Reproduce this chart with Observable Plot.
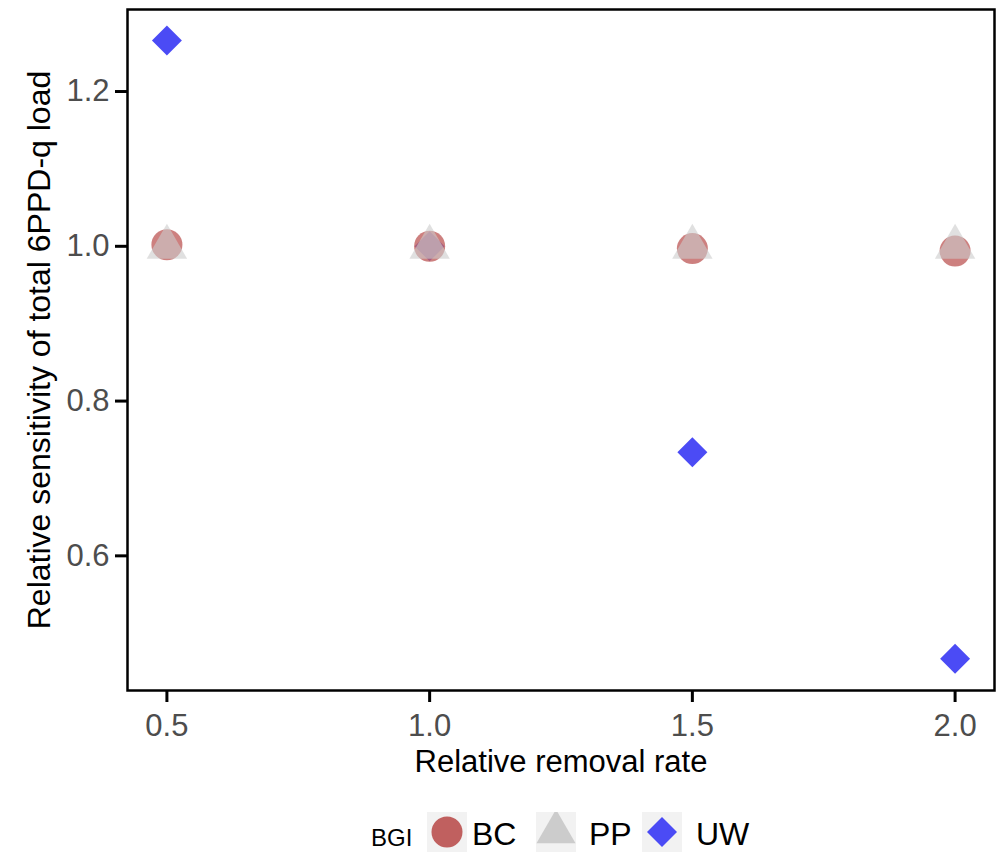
<!DOCTYPE html>
<html>
<head>
<meta charset="utf-8">
<script src="https://cdn.jsdelivr.net/npm/d3@7"></script>
<script src="https://cdn.jsdelivr.net/npm/@observablehq/plot@0.6"></script>
<style>
  html, body { margin: 0; padding: 0; background: #fff; }
  body { width: 998px; height: 854px; overflow: hidden; font-family: "Liberation Sans", Arial, sans-serif; }
  #legend { position: relative; height: 64px; }
  #legend .it { position: absolute; top: 0; white-space: nowrap; }
</style>
</head>
<body>
<div id="chart"></div>
<div id="legend"></div>
<script>
// ---- data ----
const rates = [0.5, 1.0, 1.5, 2.0];
const bcValues = [1.002, 1.0, 0.997, 0.994];
const ppValues = [0.999, 0.999, 0.999, 0.999];
const uwValues = [1.266, 1.0, 0.734, 0.467];
const groups = ["BC", "PP", "UW"];
const groupColors = ["#c0605f", "#cccccc", "#4b4bf5"];
const groupSymbols = ["circle", "triangle", "diamond2"];
const xTicks = [0.5, 1.0, 1.5, 2.0];
const yTicks = [0.6, 0.8, 1.0, 1.2];

const rows = (g, vals) => rates.map((r, i) => ({rate: r, value: vals[i], BGI: g}));
const uw = rows("UW", uwValues);
const bc = rows("BC", bcValues);
const pp = rows("PP", ppValues);

const font = '"Liberation Sans", Arial, sans-serif';

const chart = Plot.plot({
  width: 998,
  height: 790,
  marginLeft: 127,
  marginRight: 4,
  marginTop: 9,
  marginBottom: 100,
  style: {fontFamily: font, background: "#fff"},
  x: {domain: [0.425, 2.075]},
  y: {domain: [0.426, 1.306]},
  color: {domain: groups, range: groupColors},
  symbol: {domain: groups, range: groupSymbols},
  marks: [
    Plot.axisX(xTicks, {
      tickFormat: d3.format(".1f"), tickSize: 12, tickPadding: 11,
      fontSize: 31, color: "#4d4d4d", stroke: "#000", strokeWidth: 3,
      label: "Relative removal rate", labelAnchor: "center", labelArrow: "none", labelOffset: 81
    }),
    Plot.axisY(yTicks, {
      tickFormat: d3.format(".1f"), tickSize: 12, tickPadding: 6,
      fontSize: 31, color: "#4d4d4d", stroke: "#000", strokeWidth: 3,
      label: "Relative sensitivity of total 6PPD-q load", labelAnchor: "center", labelArrow: "none", labelOffset: 100
    }),
    Plot.dot(uw, {x: "rate", y: "value", symbol: "BGI", fill: "BGI", r: 13.5}),
    Plot.dot(bc, {x: "rate", y: "value", symbol: "BGI", fill: "BGI", r: 15.5, fillOpacity: 0.8}),
    Plot.dot(pp, {x: "rate", y: "value", symbol: "BGI", fill: "BGI", r: 15, fillOpacity: 0.6}),
    Plot.frame({stroke: "#000", strokeWidth: 2.5})
  ]
});
chart.querySelectorAll('g[aria-label="x-axis label"] text').forEach(t => {
  t.setAttribute("fill", "#000");
  t.style.fontSize = "31px";
});
chart.querySelectorAll('g[aria-label="y-axis label"] text').forEach(t => {
  t.setAttribute("fill", "#000");
  t.style.fontSize = "32px";
});
document.getElementById("chart").appendChild(chart);

// ---- legend ----
const legend = d3.select("#legend");
legend.append("div").attr("class", "it")
  .style("left", "371px").style("top", "36px")
  .style("font-size", "24px").style("line-height", "24px").style("color", "#000").text("BGI");
const keyLeft = [427, 536, 642];
const labelLeft = [472, 589, 696];
const symMap = {circle: d3.symbolCircle, triangle: d3.symbolTriangle, diamond2: d3.symbolDiamond2};
const symR = [15.5, 14.5, 13.5];
groups.forEach((g, i) => {
  const svg = legend.append("svg").attr("class", "it")
    .style("left", keyLeft[i] + "px").style("top", "22px")
    .attr("width", 40).attr("height", 40);
  svg.append("rect").attr("width", 40).attr("height", 40).attr("fill", "#f2f2f2");
  svg.append("path")
    .attr("transform", "translate(20,20)")
    .attr("d", d3.symbol(symMap[groupSymbols[i]], Math.PI * symR[i] * symR[i])())
    .attr("fill", groupColors[i]);
  legend.append("div").attr("class", "it")
    .style("left", labelLeft[i] + "px").style("top", "28px")
    .style("font-size", "32px").style("line-height", "32px").style("color", "#000").text(g);
});
</script>
</body>
</html>
